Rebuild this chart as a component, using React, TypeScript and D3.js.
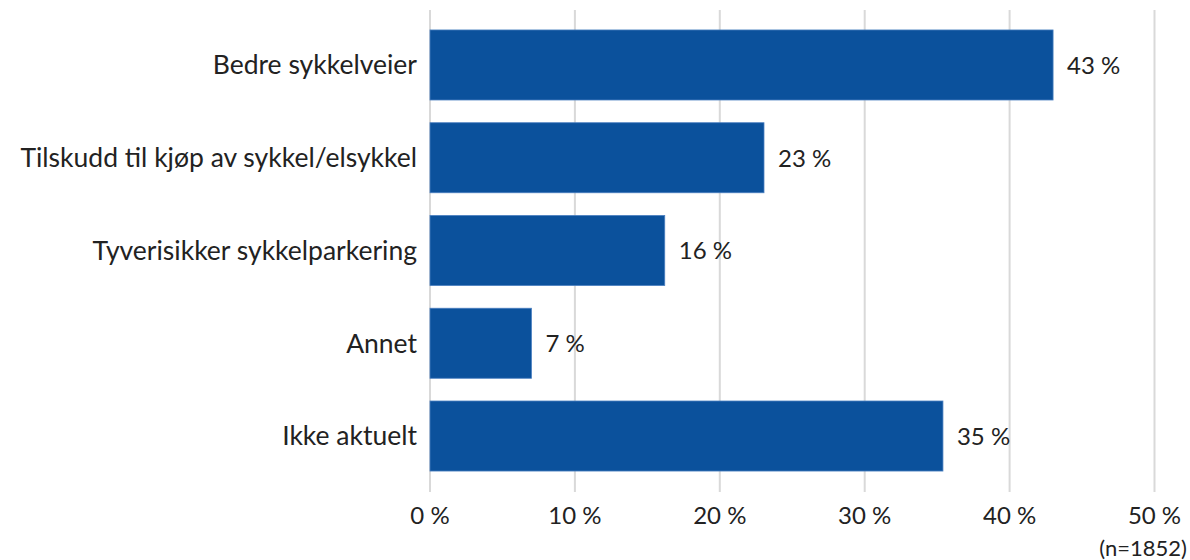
import * as d3 from 'd3'

const categories = [
  'Bedre sykkelveier',
  'Tilskudd til kjøp av sykkel/elsykkel',
  'Tyverisikker sykkelparkering',
  'Annet',
  'Ikke aktuelt',
]
const values = [43.0, 23.05, 16.2, 7.0, 35.4]
const valueLabels = ['43 %', '23 %', '16 %', '7 %', '35 %']
const xTicks = [0, 10, 20, 30, 40, 50]
const note = '(n=1852)'

const W = 1190
const H = 560
const FONT = 'Lato, "Open Sans", sans-serif'
const BAR = '#0b519c'

export default function App() {
  const x = d3.scaleLinear().domain([0, 50]).range([430, 1154.5])
  const y = d3.scaleBand<string>().domain(categories).range([18.6, 482.4]).paddingInner(0.245).paddingOuter(0.1225)

  return (
    <svg width={W} height={H} style={{ position: 'absolute', left: 0, top: 0, background: '#fff' }} fontFamily={FONT}>
      {xTicks.map((t) => (
        <g key={t}>
          <line x1={x(t)} x2={x(t)} y1={10} y2={492} stroke="#d9d9d9" strokeWidth={2} />
          <text x={x(t)} y={523.5} textAnchor="middle" fontSize={24} fill="#222">{`${t} %`}</text>
        </g>
      ))}
      {categories.map((c, i) => (
        <g key={c}>
          <rect
            x={x(0)}
            y={y(c)}
            width={x(values[i]) - x(0)}
            height={y.bandwidth()}
            fill={BAR}
            stroke="#4a7fc0"
            strokeWidth={0.8}
          />
          <text x={417} y={(y(c) ?? 0) + y.bandwidth() / 2} dy="0.35em" textAnchor="end" fontSize={26.5} fill="#222">{c}</text>
          <text x={x(values[i]) + 14} y={(y(c) ?? 0) + y.bandwidth() / 2} dy="0.37em" fontSize={24} fill="#222">{valueLabels[i]}</text>
        </g>
      ))}
      <text x={1187} y={556} textAnchor="end" fontSize={22} fill="#222">{note}</text>
    </svg>
  )
}
